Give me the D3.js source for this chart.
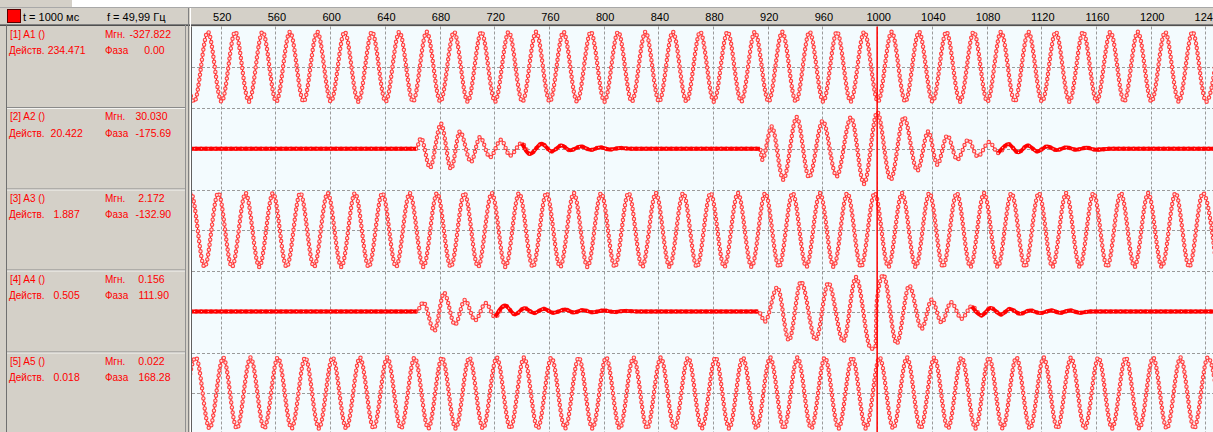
<!DOCTYPE html>
<html><head><meta charset="utf-8">
<script src="https://cdn.jsdelivr.net/npm/d3@7"></script>
<style>
html,body{margin:0;padding:0;background:#d4d0c8;overflow:hidden}
svg{display:block}
text{font-family:"Liberation Sans",Arial,sans-serif}
</style></head><body><svg id="c" width="1213" height="432"></svg>
<script>
// ---------- data ----------
const channelNames = ["[1] A1 ()", "[2] A2 ()", "[3] A3 ()", "[4] A4 ()", "[5] A5 ()"];
const instValues = [-327.822, 30.030, 2.172, 0.156, 0.022];
const rmsValues = [234.471, 20.422, 1.887, 0.505, 0.018];
const phaseValues = [0.00, -175.69, -132.90, 111.90, 168.28];
const cursorTime = 1000;
const cursorLabel = "t = 1000 мс";
const freqLabel = "f = 49,99 Гц";
const timeTicks = [520, 560, 600, 640, 680, 720, 760, 800, 840, 880, 920, 960, 1000, 1040, 1080, 1120, 1160, 1200, 1240];
const timeDomain = [499, 1245.6];

// half-cycle extrema [time ms, value]
const a1 = [
 [490.6,331.6],[500.6,-331.6],[510.6,331.6],[520.6,-331.6],[530.6,331.6],[540.6,-331.6],[550.6,331.6],[560.6,-331.6],[570.6,331.6],[580.6,-331.6],
 [590.6,331.6],[600.6,-331.6],[610.6,331.6],[620.6,-331.6],[630.6,331.6],[640.6,-331.6],[650.6,331.6],[660.6,-331.6],[670.6,331.6],[680.6,-331.6],
 [690.6,331.6],[700.6,-331.6],[710.6,331.6],[720.6,-331.6],[730.6,331.6],[740.6,-331.6],[750.6,331.6],[760.6,-331.6],[770.6,331.6],[780.6,-331.6],
 [790.6,331.6],[800.6,-331.6],[810.6,331.6],[820.6,-331.6],[830.6,331.6],[840.6,-331.6],[850.6,331.6],[860.6,-331.6],[870.6,331.6],[880.6,-331.6],
 [890.6,331.6],[900.6,-331.6],[910.6,331.6],[920.6,-331.6],[930.6,331.6],[940.6,-331.6],[950.6,331.6],[960.6,-331.6],[970.6,331.6],[980.6,-331.6],
 [990.6,331.6],[1000.6,-331.6],[1010.6,331.6],[1020.6,-331.6],[1030.6,331.6],[1040.6,-331.6],[1050.6,331.6],[1060.6,-331.6],[1070.6,331.6],[1080.6,-331.6],
 [1090.6,331.6],[1100.6,-331.6],[1110.6,331.6],[1120.6,-331.6],[1130.6,331.6],[1140.6,-331.6],[1150.6,331.6],[1160.6,-331.6],[1170.6,331.6],[1180.6,-331.6],
 [1190.6,331.6],[1200.6,-331.6],[1210.6,331.6],[1220.6,-331.6],[1230.6,331.6],[1240.6,-331.6],[1250.6,331.6]
];
const a2 = [
 [491,0],[662.8,0],[666.5,8.8],[673.0,-15.6],[681.1,20.5],[688.4,-16.6],[694.9,14.2],[703.0,-10.9],[709.6,9.6],[716.9,-7.1],
 [725.0,7.4],[731.5,-5.7],[740.1,4.7],[746.2,-4.3],[754.7,4.1],[762.0,-2.2],[769.3,2.7],[775.4,-1.4],[783.5,1.9],[790.5,-1.0],
 [797.5,1.2],[804.5,-0.6],[812,0.6],[820,0],[914.3,0],[916.0,-9.0],[922.9,18.3],[931.4,-25.4],[941.2,25.9],[950.2,-23.5],
 [960.2,22.9],[970.4,-22.7],[980.9,25.9],[990.4,-28.9],[1000.1,30.0],[1009.9,-25.4],[1019.6,25.9],[1029.4,-18.0],[1037.4,14.2],[1044.0,-13.1],
 [1051.3,10.9],[1058.6,-9.0],[1066.6,7.4],[1073.5,-6.3],[1082.0,5.5],[1088.6,-3.5],[1095.9,3.8],[1103.2,-3.0],[1110.1,2.7],[1117.1,-2.2],
 [1124.4,1.9],[1131.3,-1.1],[1138.6,1.1],[1145.4,-0.8],[1153.2,0.8],[1160.0,-0.8],[1170,0],[1252,0]
];
const a3 = [
 [488.2,-2.669],[498.2,2.669],[508.2,-2.669],[518.2,2.669],[528.2,-2.669],[538.2,2.669],[548.2,-2.669],[558.2,2.669],[568.2,-2.669],[578.2,2.669],
 [588.2,-2.669],[598.2,2.669],[608.2,-2.669],[618.2,2.669],[628.2,-2.669],[638.2,2.669],[648.2,-2.669],[658.2,2.669],[668.2,-2.669],[678.2,2.669],
 [688.2,-2.669],[698.2,2.669],[708.2,-2.669],[718.2,2.669],[728.2,-2.669],[738.2,2.669],[748.2,-2.669],[758.2,2.669],[768.2,-2.669],[778.2,2.669],
 [788.2,-2.669],[798.2,2.669],[808.2,-2.669],[818.2,2.669],[828.2,-2.669],[838.2,2.669],[848.2,-2.669],[858.2,2.669],[868.2,-2.669],[878.2,2.669],
 [888.2,-2.669],[898.2,2.669],[908.2,-2.669],[918.2,2.669],[928.2,-2.669],[938.2,2.669],[948.2,-2.669],[958.2,2.669],[968.2,-2.669],[978.2,2.669],
 [988.2,-2.669],[998.2,2.669],[1008.2,-2.669],[1018.2,2.669],[1028.2,-2.669],[1038.2,2.669],[1048.2,-2.669],[1058.2,2.669],[1068.2,-2.669],[1078.2,2.669],
 [1088.2,-2.669],[1098.2,2.669],[1108.2,-2.669],[1118.2,2.669],[1128.2,-2.669],[1138.2,2.669],[1148.2,-2.669],[1158.2,2.669],[1168.2,-2.669],[1178.2,2.669],
 [1188.2,-2.669],[1198.2,2.669],[1208.2,-2.669],[1218.2,2.669],[1228.2,-2.669],[1238.2,2.669],[1248.2,-2.669]
];
const a4 = [
 [491,0],[663.3,0],[668.1,0.184],[676.2,-0.384],[683.3,0.367],[691.3,-0.261],[698.6,0.229],[706.0,-0.176],[713.8,0.165],[720.6,-0.110],
 [727.9,0.118],[735.2,-0.059],[742.0,0.067],[749.1,-0.031],[756.4,0.053],[763.2,-0.025],[771.8,0.039],[778.3,-0.020],[784.7,0.027],[792,-0.015],
 [800,0.02],[808,-0.01],[815,0.012],[825,0],[913.1,0],[918.0,-0.196],[927.0,0.478],[935.5,-0.569],[944.3,0.588],[955.1,-0.555],
 [964.3,0.563],[975.3,-0.588],[984.5,0.675],[995.5,-0.731],[998.8,-0.70],[999.7,0.190],[1004.5,0.720],[1014.3,-0.633],[1023.5,0.510],[1032.6,-0.339],
 [1039.9,0.235],[1047.2,-0.222],[1054.0,0.184],[1061.8,-0.143],[1069.1,0.106],[1076.4,-0.078],[1083.0,0.073],[1090.6,-0.059],[1097.1,0.053],[1104.5,-0.045],
 [1111.8,0.020],[1119.1,-0.031],[1127.6,0.020],[1133.7,-0.025],[1141.0,0.020],[1148.3,-0.025],[1155.6,0],[1252,0]
];
const a5 = [
 [491.8,-0.02546],[501.8,0.02546],[511.8,-0.02546],[521.8,0.02546],[531.8,-0.02546],[541.8,0.02546],[551.8,-0.02546],[561.8,0.02546],[571.8,-0.02546],[581.8,0.02546],
 [591.8,-0.02546],[601.8,0.02546],[611.8,-0.02546],[621.8,0.02546],[631.8,-0.02546],[641.8,0.02546],[651.8,-0.02546],[661.8,0.02546],[671.8,-0.02546],[681.8,0.02546],
 [691.8,-0.02546],[701.8,0.02546],[711.8,-0.02546],[721.8,0.02546],[731.8,-0.02546],[741.8,0.02546],[751.8,-0.02546],[761.8,0.02546],[771.8,-0.02546],[781.8,0.02546],
 [791.8,-0.02546],[801.8,0.02546],[811.8,-0.02546],[821.8,0.02546],[831.8,-0.02546],[841.8,0.02546],[851.8,-0.02546],[861.8,0.02546],[871.8,-0.02546],[881.8,0.02546],
 [891.8,-0.02546],[901.8,0.02546],[911.8,-0.02546],[921.8,0.02546],[931.8,-0.02546],[941.8,0.02546],[951.8,-0.02546],[961.8,0.02546],[971.8,-0.02546],[981.8,0.02546],
 [991.8,-0.02546],[1001.8,0.02546],[1011.8,-0.02546],[1021.8,0.02546],[1031.8,-0.02546],[1041.8,0.02546],[1051.8,-0.02546],[1061.8,0.02546],[1071.8,-0.02546],[1081.8,0.02546],
 [1091.8,-0.02546],[1101.8,0.02546],[1111.8,-0.02546],[1121.8,0.02546],[1131.8,-0.02546],[1141.8,0.02546],[1151.8,-0.02546],[1161.8,0.02546],[1171.8,-0.02546],[1181.8,0.02546],
 [1191.8,-0.02546],[1201.8,0.02546],[1211.8,-0.02546],[1221.8,0.02546],[1231.8,-0.02546],[1241.8,0.02546],[1251.8,-0.02546]
];
const channelData = [a1, a2, a3, a4, a5];
const channelRange = [390.8, 33.34, 2.921, 0.804, 0.0290];

// ---------- layout ----------
const W = 1213, H = 432;
const plotL = 192, plotR = 1213, plotT = 26.5;
const rowBounds = [25.5, 108, 189.5, 270.5, 352.5, 433.5];
const red = "#ff0000";

const svg = d3.select("#c");
svg.append("rect").attr("x",0).attr("y",0).attr("width",W).attr("height",H).attr("fill","#d4d0c8");
svg.append("rect").attr("x",72).attr("y",0).attr("width",W-72).attr("height",7).attr("fill","#ffffff");
svg.append("line").attr("x1",0).attr("x2",W).attr("y1",7.5).attr("y2",7.5).attr("stroke","#a8a8a8");

// header
svg.append("rect").attr("x",7.5).attr("y",9.5).attr("width",13).attr("height",13)
  .attr("fill",red).attr("stroke","#5a0000");
svg.append("text").attr("x",23).attr("y",20.5).attr("font-size",11).attr("fill","#000").text(cursorLabel);
svg.append("text").attr("x",107).attr("y",20.5).attr("font-size",11).attr("fill","#000").text(freqLabel);

const x = d3.scaleLinear().domain(timeDomain).range([plotL, plotR]);

svg.append("g").selectAll("text").data(timeTicks).join("text")
  .attr("x", d => x(d) + 1.5).attr("y", 20.5).attr("text-anchor","middle")
  .attr("font-size", 11).attr("fill","#000").text(d => d);

svg.append("line").attr("x1",0).attr("x2",W).attr("y1",24.5).attr("y2",24.5).attr("stroke","#808080");
svg.append("line").attr("x1",0).attr("x2",W).attr("y1",25.5).attr("y2",25.5).attr("stroke","#505050");

svg.append("line").attr("x1",6.5).attr("x2",6.5).attr("y1",25).attr("y2",H).attr("stroke","#707070");
svg.append("line").attr("x1",185.5).attr("x2",185.5).attr("y1",25).attr("y2",H).attr("stroke","#909090");
svg.append("line").attr("x1",188.5).attr("x2",188.5).attr("y1",8).attr("y2",H).attr("stroke","#808080");
svg.append("line").attr("x1",190.5).attr("x2",190.5).attr("y1",8).attr("y2",H).attr("stroke","#ffffff");

svg.append("rect").attr("x",plotL).attr("y",plotT).attr("width",plotR-plotL).attr("height",H-plotT).attr("fill","#f3fbfe");
svg.append("line").attr("x1",plotL-0.5).attr("x2",plotL-0.5).attr("y1",plotT).attr("y2",H).attr("stroke","#606060");

rowBounds.slice(1,5).forEach(yb => {
  svg.append("line").attr("x1",7).attr("x2",185).attr("y1",yb-0.5).attr("y2",yb-0.5).attr("stroke","#8a8a8a");
  svg.append("line").attr("x1",7).attr("x2",185).attr("y1",yb+0.5).attr("y2",yb+0.5).attr("stroke","#f4f3f0");
});

// grid
const grid = svg.append("g").attr("stroke","#9a9a9a").attr("stroke-dasharray","3,2").attr("stroke-width",1);
timeTicks.forEach(t => {
  const xx = Math.round(x(t)) + 0.5;
  grid.append("line").attr("x1",xx).attr("x2",xx).attr("y1",plotT).attr("y2",H);
});
const hLines = [];
for (let i = 0; i < 5; i++) {
  hLines.push((rowBounds[i] + rowBounds[i+1]) / 2);
  if (i < 4) hLines.push(rowBounds[i+1]);
}
hLines.forEach(yy => {
  const y0 = Math.round(yy) + 0.5;
  grid.append("line").attr("x1",plotL).attr("x2",plotR).attr("y1",y0).attr("y2",y0);
});

svg.append("clipPath").attr("id","pc").append("rect")
  .attr("x",plotL).attr("y",plotT).attr("width",plotR-plotL).attr("height",H-plotT);
const plot = svg.append("g").attr("clip-path","url(#pc)");

channelData.forEach((data, i) => {
  const y = d3.scaleLinear().domain([-channelRange[i], channelRange[i]]).range([rowBounds[i+1], rowBounds[i]]);
  const line = d3.line().x(d => x(d[0])).y(d => y(d[1])).curve(d3.curveMonotoneX);
  const d = line(data);
  plot.append("path").attr("d", d).attr("fill","none").attr("stroke", red).attr("stroke-width", 1.1);
  plot.append("path").attr("d", d).attr("fill","none").attr("stroke","#ff4444").attr("stroke-width", 4.5)
    .attr("stroke-linecap","round").attr("stroke-dasharray","0,5");
  plot.append("path").attr("d", d).attr("fill","none").attr("stroke","#ffe0e0").attr("stroke-width", 2.2)
    .attr("stroke-linecap","round").attr("stroke-dasharray","0,5");
  // low-amplitude stretches: densely packed samples merge into a solid band
  const low = d3.line().x(d => x(d[0])).y(d => y(d[1])).curve(d3.curveMonotoneX)
    .defined(d => Math.abs(d[1]) < channelRange[i] * 0.15);
  const ld = low(data);
  plot.append("path").attr("d", ld).attr("fill","none").attr("stroke", red).attr("stroke-width", 3.8)
    .attr("stroke-linejoin","round");
  plot.append("path").attr("d", ld).attr("fill","none").attr("stroke","#ffd0d0").attr("stroke-width", 1.2)
    .attr("stroke-linecap","round").attr("stroke-dasharray","0,6.8");
});

const cx = x(cursorTime);
svg.append("line").attr("x1",cx).attr("x2",cx).attr("y1",plotT).attr("y2",H).attr("stroke",red).attr("stroke-width",1.5);

// left panel text (NBSP padding keeps the fixed-width field look)
const fmt = (v, dec, w) => v.toFixed(dec).padStart(w, " ").replace(/ /g, "\u00a0");
const panel = svg.append("g").attr("fill", red);
channelNames.forEach((name, i) => {
  const top = rowBounds[i];
  const y1 = top + 12, y2 = top + 28.7;
  panel.append("text").attr("x", 10).attr("y", y1).attr("font-size", 10).text(name);
  panel.append("text").attr("x", 105).attr("y", y1).attr("font-size", 10).text("Мгн.");
  panel.append("text").attr("x", 129.6).attr("y", y1).attr("font-size", 10.5).text(fmt(instValues[i], 3, 8));
  panel.append("text").attr("x", 9).attr("y", y2).attr("font-size", 10).text("Действ.");
  panel.append("text").attr("x", 47.7).attr("y", y2).attr("font-size", 10.5).text(fmt(rmsValues[i], 3, 7));
  panel.append("text").attr("x", 105).attr("y", y2).attr("font-size", 10).text("Фаза");
  panel.append("text").attr("x", 135.5).attr("y", y2).attr("font-size", 10.5).text(fmt(phaseValues[i], 2, 7));
});
</script></body></html>
